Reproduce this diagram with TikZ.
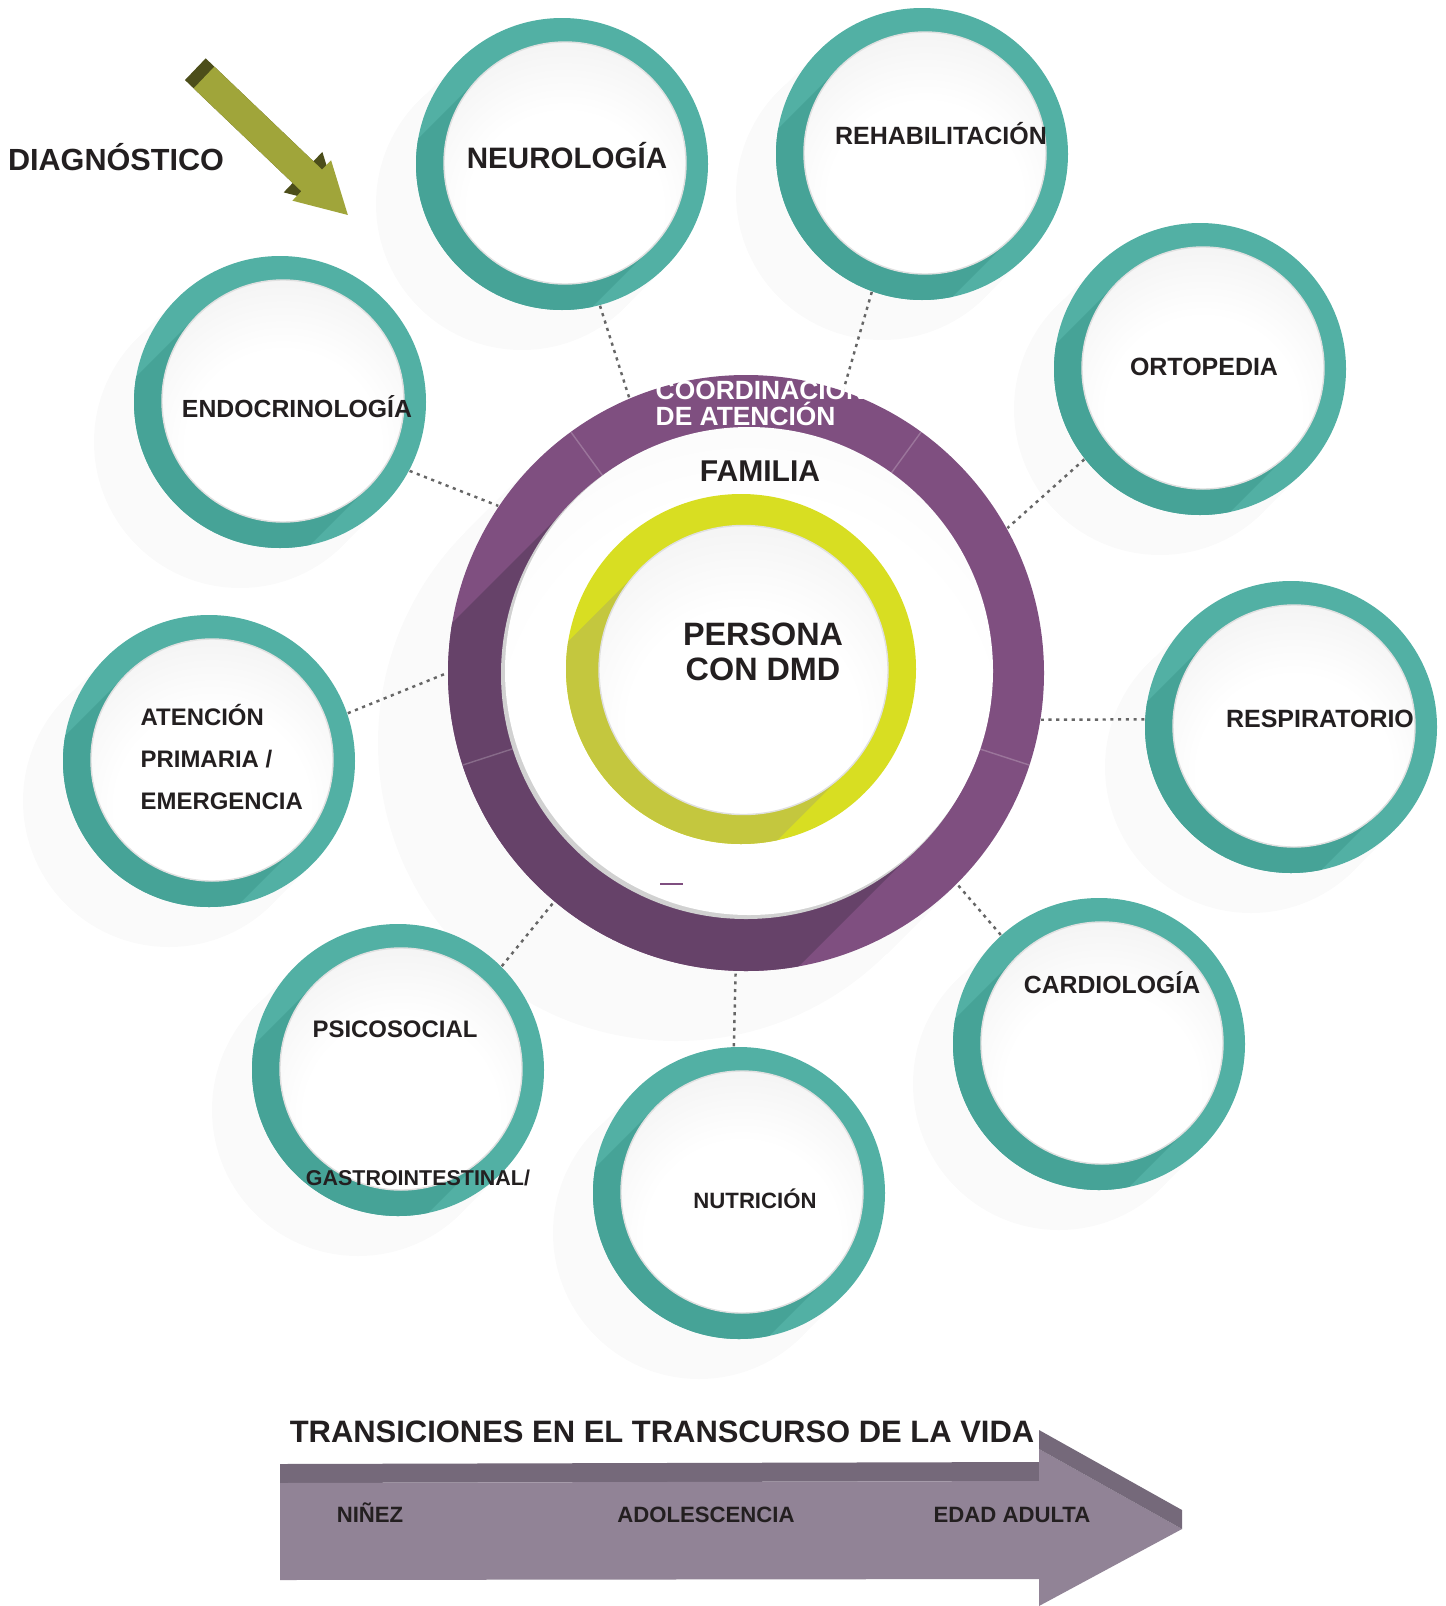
\documentclass[tikz,border=0pt]{standalone}
\usepackage{fontspec}
\setmainfont{Liberation Sans}
\usetikzlibrary{calc}
\definecolor{dmdteal}{RGB}{82,176,164}
\definecolor{dmdtealdark}{RGB}{70,163,151}
\definecolor{dmdpurple}{RGB}{127,79,128}
\definecolor{dmdpurpledark}{RGB}{102,66,105}
\definecolor{dmdyellow}{RGB}{216,222,34}
\definecolor{dmdyellowdark}{RGB}{196,199,62}
\definecolor{dmdolive}{RGB}{160,165,58}
\definecolor{dmdolivedark}{RGB}{76,78,26}
\definecolor{dmdink}{RGB}{35,31,32}
\definecolor{lifeface}{RGB}{145,131,150}
\definecolor{lifetop}{RGB}{117,105,122}
\pgfdeclareradialshading{plate}{\pgfpoint{0bp}{-12bp}}{color(0bp)=(white); color(20bp)=(white); color(45bp)=(black!8); color(62bp)=(black!15); color(100bp)=(black!15)}
\pgfdeclareradialshading{platelight}{\pgfpoint{0bp}{-10bp}}{color(0bp)=(white); color(25bp)=(white); color(50bp)=(black!5); color(62bp)=(black!9); color(100bp)=(black!9)}

\begin{document}
\begin{tikzpicture}[x=0.01cm, y=-0.01cm,
    ring/.style={circle, inner sep=0pt, minimum size=2.92cm},
    lbl/.style={inner sep=0pt, anchor=base, text=dmdink, font=\bfseries\fontsize{#1}{#1}\selectfont},
    link/.style={draw=black!60, line width=0.7pt, dash pattern=on 0.9pt off 1.3pt}]
\useasboundingbox (0,0) rectangle (1445,1606);
\fill[white] (0,0) rectangle (1445,1606);

% Soft shadows on the background
\foreach \cx/\cy in {562/164, 922/154, 1200/369, 1291/727, 1099/1044, 739/1193, 398/1070, 209/761, 280/402} {
  \fill[black, opacity=0.018] ({\cx-103},{\cy-103}) -- ({\cx+103},{\cy+103}) -- ({\cx+103-40},{\cy+103+40}) -- ({\cx-103-40},{\cy-103+40}) -- cycle ({\cx-40},{\cy+40}) circle (146);
}
\fill[black, opacity=0.02] ({746-211},{673-211}) -- ({746+211},{673+211}) -- ({746+211-70},{673+211+70}) -- ({746-211-70},{673-211+70}) -- cycle ({746-70},{673+70}) circle (298);

% Specialty circles
\foreach \nm/\cx/\cy in {neuro/562/164, rehab/922/154, orto/1200/369, resp/1291/727, cardio/1099/1044, nutri/739/1193, psico/398/1070, aten/209/761, endo/280/402} {
  \fill[dmdteal] (\cx,\cy) circle (146);
  \begin{scope}
    \clip (\cx,\cy) circle (146);
    \fill[dmdtealdark] ({\cx-82.6},{\cy-86.6}) -- ({\cx+88.6},{\cy+84.6}) -- ++(-250,250) -- ({\cx-82.6-250},{\cy-86.6+250}) -- cycle;
  \end{scope}
  \shade[shading=plate, draw=black!12, line width=0.4pt] ({\cx+3},{\cy-1}) circle (121);
  \node[ring] (\nm) at (\cx,\cy) {};
}

% Coordination ring
\fill[dmdpurple] (746,673) circle (298);
\begin{scope}
  \clip (746,673) circle (298);
  \fill[dmdpurpledark] ({749-172.5},{671-172.5}) -- ({749+172.5},{671+172.5}) -- ++(-400,400) -- ({749-172.5-400},{671-172.5+400}) -- cycle;
\end{scope}
\foreach \a in {126,54,-18,198}
  \draw[white, opacity=0.22, line width=0.4pt] ({746+244*cos(\a)},{673-244*sin(\a)}) -- ({746+298*cos(\a)},{673-298*sin(\a)});
\node[circle, inner sep=0pt, minimum size=5.96cm] (coord) at (746,673) {};

% Family
\fill[black!18] (746,674) circle (245);
\shade[shading=platelight] (749,671) circle (244);
\node[circle, inner sep=0pt, minimum size=4.88cm] (familia) at (749,671) {};
\draw[dmdpurple, line width=0.6pt] (660,884) -- (683,884);

% Person
\fill[dmdyellow] (741,669) circle (175);
\begin{scope}
  \clip (741,669) circle (175);
  \fill[dmdyellowdark] ({743.5-102},{670-102}) -- ({743.5+102},{670+102}) -- ++(-300,300) -- ({743.5-102-300},{670-102+300}) -- cycle;
\end{scope}
\shade[shading=plate, draw=black!12, line width=0.4pt] (743.5,670) circle (144.5);
\node[circle, inner sep=0pt, minimum size=2.89cm] (persona) at (743.5,670) {};

% Connectors
\foreach \from/\a/\b in {neuro/-75/113, rehab/-110/71, orto/218/29, resp/177/-9, cardio/132/-45, nutri/92/-92, psico/45/-130, aten/19/180, endo/-28/146}
  \draw[link] (\from.\a) -- (coord.\b);

% Diagnosis arrow
\begin{scope}[shift={(204,77.5)}, rotate=-43.7]
  \fill[dmdolivedark] (-12,-15) -- (137,-15) -- (137,-28) -- (187,0) -- (137,28) -- (137,15) -- (-12,15) -- cycle;
  \fill[dmdolive] (0,-15) -- (149,-15) -- (149,-28) -- (199,0) -- (149,28) -- (149,15) -- (0,15) -- cycle;
\end{scope}

% Life arrow
\fill[lifetop] (280,1464) -- (1039,1462) -- (1039,1481) -- (280,1483) -- cycle;
\fill[lifeface] (280,1483) -- (1039,1481) -- (1039,1449) -- (1182,1529) -- (1039,1606) -- (1039,1579) -- (280,1580) -- cycle;
\fill[lifetop] (1039,1430) -- (1182,1510) -- (1182,1529) -- (1039,1449) -- cycle;

% Labels
\node[lbl=8.7pt] (diag) at (116,170) {DIAGNÓSTICO};
\node[lbl=8.4pt] (neurot) at (567,168.5) {NEUROLOGÍA};
\node[lbl=7.1pt] (rehabt) at (941,144) {REHABILITACIÓN};
\node[lbl=7.1pt] (ortot) at (1204,375) {ORTOPEDIA};
\node[lbl=7.1pt] (respt) at (1320,727) {RESPIRATORIO};
\node[lbl=7.05pt] (cardiot) at (1112,993) {CARDIOLOGÍA};
\node[lbl=6.3pt] (nutrit) at (755,1208) {NUTRICIÓN};
\node[lbl=6.8pt] (psicot) at (395,1037) {PSICOSOCIAL};
\node[lbl=6.1pt] (gastrot) at (418,1185) {GASTROINTESTINAL/};
\node[lbl=6.8pt, anchor=base west] (atent1) at (140,725.5) {ATENCIÓN};
\node[lbl=6.8pt, anchor=base west] (atent2) at (140,767.5) {PRIMARIA /};
\node[lbl=6.8pt, anchor=base west] (atent3) at (140,809.5) {EMERGENCIA};
\node[lbl=7.05pt] (endot) at (297,417) {ENDOCRINOLOGÍA};
\node[lbl=8.55pt] (famt) at (760,481) {FAMILIA};
\node[lbl=9.2pt] (perst1) at (763,645) {PERSONA};
\node[lbl=9.2pt] (perst2) at (763,680) {CON DMD};
\node[lbl=7.5pt, text=white, anchor=base west] (coordt1) at (655,399) {COORDINACIÓN};
\node[lbl=7.5pt, text=white, anchor=base west] (coordt2) at (655,425) {DE ATENCIÓN};
\node[lbl=8.8pt] (lifet) at (662,1442) {TRANSICIONES EN EL TRANSCURSO DE LA VIDA};
\node[lbl=6.3pt] (ninez) at (370,1522) {NIÑEZ};
\node[lbl=6.3pt] (adol) at (706,1522) {ADOLESCENCIA};
\node[lbl=6.3pt] (adult) at (1012,1522) {EDAD ADULTA};
\end{tikzpicture}
\end{document}
